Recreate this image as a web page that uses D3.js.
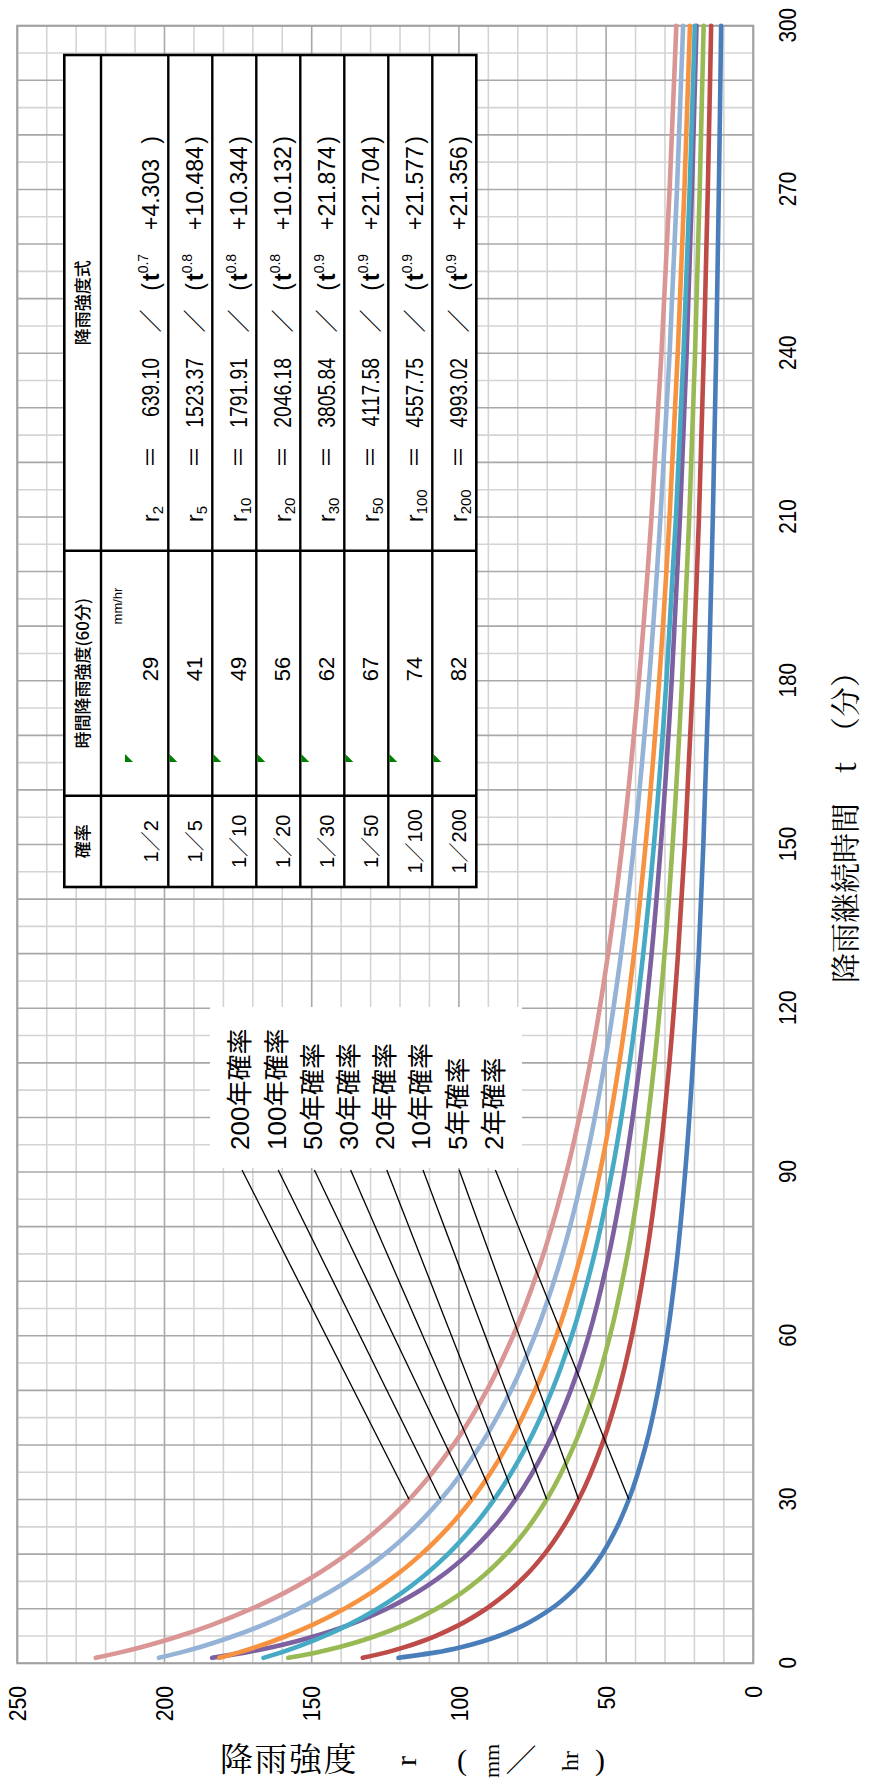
<!DOCTYPE html>
<html><head><meta charset="utf-8">
<script src="https://cdn.jsdelivr.net/npm/d3@7"></script>
<style>body{margin:0;background:#fff} svg{display:block}</style>
</head><body>
<svg id="c" width="873" height="1782"></svg>
<script>
// ---------- data ----------
const tValues = [1,2,3,4,5,7,10,13,16,20,25,30,40,50,60,75,90,110,130,150,180,210,240,270,300];
const r2   = [120.52,107.82,98.92,92.06,86.50,77.87,68.61,61.90,56.72,51.35,46.24,42.28,36.46,32.33,29.22,25.73,23.13,20.51,18.53,16.97,15.14,13.74,12.61,11.70,10.92];
const r5   = [132.65,124.61,118.16,112.71,107.98,100.04,90.71,83.39,77.43,70.95,64.50,59.32,51.45,45.68,41.24,36.18,32.36,28.50,25.56,23.24,20.53,18.45,16.80,15.45,14.32];
const r10  = [157.96,148.27,140.52,133.97,128.29,118.77,107.60,98.85,91.74,84.01,76.33,70.16,60.80,53.96,48.69,42.69,38.18,33.61,30.14,27.40,24.20,21.74,19.79,18.20,16.87];
const r20  = [183.81,172.34,163.17,155.44,148.75,137.55,124.45,114.21,105.90,96.90,87.95,80.79,69.93,62.01,55.92,49.00,43.79,38.53,34.54,31.39,27.71,24.89,22.65,20.83,19.30];
const r30  = [166.38,160.31,154.95,150.09,145.65,137.71,127.64,119.18,111.94,103.71,95.16,88.05,76.83,68.35,61.67,53.93,48.02,42.00,37.39,33.75,29.51,26.27,23.70,21.61,19.88];
const r50  = [181.36,174.70,168.81,163.48,158.61,149.92,138.89,129.64,121.71,112.73,103.40,95.64,83.41,74.17,66.90,58.48,52.06,45.52,40.52,36.57,31.97,28.45,25.66,23.40,21.52];
const r100 = [201.88,194.42,187.83,181.88,176.43,166.71,154.39,144.07,135.23,125.21,114.82,106.17,92.57,82.29,74.21,64.85,57.72,50.46,44.91,40.53,35.42,31.52,28.43,25.92,23.84];
const r200 = [223.34,215.01,207.66,201.02,194.94,184.12,170.41,158.94,149.13,138.01,126.49,116.91,101.87,90.50,81.59,71.27,63.41,55.41,49.31,44.48,38.87,34.58,31.19,28.43,26.15];

const seriesNames  = ["2年確率","5年確率","10年確率","20年確率","30年確率","50年確率","100年確率","200年確率"];
const seriesValues = [r2, r5, r10, r20, r30, r50, r100, r200];
const seriesColors = ["#4a7ebb","#be4b48","#98b954","#7d60a0","#46aac5","#f69240","#95b3d7","#d99694"];

const tTicks = [0,30,60,90,120,150,180,210,240,270,300];
const rTicks = [0,50,100,150,200,250];

const legendOrder = ["200年確率","100年確率","50年確率","30年確率","20年確率","10年確率","5年確率","2年確率"];
const leaderT = 30;

const probLabels = ["1／2","1／5","1／10","1／20","1／30","1／50","1／100","1／200"];
const hourlyIntensity = [29,41,49,56,62,67,74,82];
const rSubs   = ["2","5","10","20","30","50","100","200"];
const coefA   = ["639.10","1523.37","1791.91","2046.18","3805.84","4117.58","4557.75","4993.02"];
const expN    = ["0.7","0.8","0.8","0.8","0.9","0.9","0.9","0.9"];
const coefB   = ["+4.303","+10.484","+10.344","+10.132","+21.874","+21.704","+21.577","+21.356"];

// ---------- layout ----------
const W = 873, H = 1782;
const svg = d3.select("#c");
// rotated frame: xr = H - pageY, yr = pageX
const g = svg.append("g").attr("transform", `translate(0,${H}) rotate(-90)`);
const plotTop = 25.7, plotBottom = 1663.3, plotLeft = 17.3, plotRight = 753.3;
const x = d3.scaleLinear().domain([0,300]).range([H - plotBottom, H - plotTop]);
const y = d3.scaleLinear().domain([0,250]).range([plotRight, plotLeft]);

const numFont = "'Liberation Sans',Arial,sans-serif";
const cjkSerif = "'Noto Serif CJK JP','Noto Sans CJK JP',serif";
const condense = (sel, k) => sel.each(function(){
  const w = this.getComputedTextLength();
  d3.select(this).attr("textLength", w*k).attr("lengthAdjust","spacingAndGlyphs");
});

// grid
const grid = g.append("g");
const tGrid = d3.range(0,301,5);
const rGrid = d3.range(0,251,10);
grid.selectAll("line.tm").data(tGrid.filter(d=>d%10!==0)).join("line")
  .attr("x1",d=>x(d)).attr("x2",d=>x(d)).attr("y1",y(250)).attr("y2",y(0))
  .attr("stroke","#d4d4d4").attr("stroke-width",1.6);
grid.selectAll("line.rm").data(rGrid.filter(d=>d%50!==0)).join("line")
  .attr("y1",d=>y(d)).attr("y2",d=>y(d)).attr("x1",x(0)).attr("x2",x(300))
  .attr("stroke","#d4d4d4").attr("stroke-width",1.6);
grid.selectAll("line.tM").data(tGrid.filter(d=>d%10===0)).join("line")
  .attr("x1",d=>x(d)).attr("x2",d=>x(d)).attr("y1",y(250)).attr("y2",y(0))
  .attr("stroke","#a8a8a8").attr("stroke-width",1.6);
grid.selectAll("line.rM").data(rGrid.filter(d=>d%50===0)).join("line")
  .attr("y1",d=>y(d)).attr("y2",d=>y(d)).attr("x1",x(0)).attr("x2",x(300))
  .attr("stroke","#a8a8a8").attr("stroke-width",1.6);
g.append("rect").attr("x",x(0)).attr("y",y(250)).attr("width",x(300)-x(0)).attr("height",y(0)-y(250))
  .attr("fill","none").attr("stroke","#a0a0a0").attr("stroke-width",2);

// axes labels
const tAx = g.append("g").attr("transform",`translate(0,788)`)
  .call(d3.axisBottom(x).tickValues(tTicks).tickSize(0).tickPadding(0));
tAx.select(".domain").remove();
tAx.selectAll("text").attr("y",0).attr("dy","0.36em").attr("font-size",23).attr("font-family",numFont).attr("fill","#000");
condense(tAx.selectAll("text"), 0.9);

const rAx = g.append("g").attr("transform",`translate(96,0)`)
  .call(d3.axisLeft(y).tickValues(rTicks).tickSize(0).tickPadding(0));
rAx.select(".domain").remove();
rAx.selectAll("text").attr("x",0).attr("dy","0.36em").attr("text-anchor","end").attr("font-size",23).attr("font-family",numFont).attr("fill","#000");
condense(rAx.selectAll("text"), 0.92);

// curves
const line = d3.line().x(d=>x(d.t)).y(d=>y(d.r)).curve(d3.curveMonotoneX);
seriesValues.forEach((vals,i)=>{
  const pts = tValues.map((t,j)=>({t, r: vals[j]}));
  g.append("path").datum(pts).attr("d",line).attr("fill","none")
   .attr("stroke",seriesColors[i]).attr("stroke-width",4.6).attr("stroke-linecap","round").attr("stroke-linejoin","round");
});

// legend box
g.append("rect").attr("x",H-1168).attr("y",210).attr("width",161).attr("height",312).attr("fill","#fff");
legendOrder.forEach((name,i)=>{
  const yy = 240 + i*36.2;
  g.append("text").attr("x",H-1150).attr("y",yy).attr("dy","0.36em")
    .attr("font-size",26).attr("font-family","'Liberation Sans','Noto Sans CJK JP',sans-serif").text(name);
  const si = seriesNames.indexOf(name);
  const j = tValues.indexOf(leaderT);
  g.append("line").attr("x1",H-1170).attr("y1",yy+2).attr("x2",x(leaderT)).attr("y2",y(seriesValues[si][j]))
    .attr("stroke","#000").attr("stroke-width",1.3);
});

// table
const tb = g.append("g");
const tX0 = H-887, tX1 = H-795.7, tX2 = H-550.7, tX3 = H-55;
const rowB = [64.3, 101, 168.3];
for (let i=1;i<=7;i++) rowB.push(168.3 + 44*i);
tb.append("rect").attr("x",tX0).attr("y",rowB[0]).attr("width",tX3-tX0).attr("height",rowB[rowB.length-1]-rowB[0]).attr("fill","#fff");
[tX1,tX2].forEach(v=>tb.append("line").attr("x1",v).attr("x2",v).attr("y1",rowB[0]).attr("y2",rowB[rowB.length-1]).attr("stroke","#000").attr("stroke-width",2.4));
rowB.slice(1,-1).forEach(v=>tb.append("line").attr("y1",v).attr("y2",v).attr("x1",tX0).attr("x2",tX3).attr("stroke","#000").attr("stroke-width",2.4));
tb.append("rect").attr("x",tX0).attr("y",rowB[0]).attr("width",tX3-tX0).attr("height",rowB[rowB.length-1]-rowB[0]).attr("fill","none").attr("stroke","#000").attr("stroke-width",2.6);

const hdrY = 83;
const hdrFont = "'Noto Sans CJK JP',sans-serif";
const hdr = (xx, str) => tb.append("text").attr("x",xx).attr("y",hdrY).attr("dy","0.36em").attr("text-anchor","middle")
   .attr("font-size",17).attr("font-weight",500).attr("font-family",hdrFont).text(str);
hdr((tX0+tX1)/2, "確率");
hdr((tX1+tX2)/2, "時間降雨強度(60分)");
hdr((tX2+tX3)/2, "降雨強度式");
tb.append("text").attr("x",H-606).attr("y",117).attr("dy","0.36em").attr("text-anchor","middle").attr("font-size",13).attr("font-family","'Liberation Sans',sans-serif").text("mm/hr");

const fF = numFont;
probLabels.forEach((p,i)=>{
  const rowEnd = rowB[i+2];
  const cy = rowEnd - 18;
  const cellStart = i===0 ? 124 : rowB[i+1];
  const t = (xx, str, anchor, size, fam) => tb.append("text").attr("x",xx).attr("y",cy).attr("dy","0.36em")
      .attr("text-anchor",anchor).attr("font-size",size||23).attr("font-family",fam||fF).text(str);
  t((tX0+tX1)/2, p, "middle", 20, "'Liberation Sans','Noto Sans CJK JP',sans-serif");
  t(H-669, String(hourlyIntensity[i]), "middle", 22);
  tb.append("path").attr("d",`M${H-762},${cellStart+1} l8,0 l-8,8 z`).attr("fill","#008000");
  const rl = t(H-522, "r", "start");
  rl.append("tspan").attr("font-size",15).attr("dy","0.3em").text(rSubs[i]);
  t(H-457, "＝", "middle", 22, "'Noto Sans CJK JP',sans-serif");
  condense(t(H-358, coefA[i], "end"), 0.84);
  t(H-321, "／", "middle", 23, "'Noto Sans CJK JP',sans-serif");
  t(H-287, "(", "middle");
  const tt = t(H-281, "t", "start", 23);
  tt.attr("font-weight","bold");
  tt.append("tspan").attr("font-size",14).attr("font-weight","normal").attr("dy","-0.75em").text(expN[i]);
  t(H-230, coefB[i], "start");
  t(H-140, ")", "middle");
});

// right axis title (rotated frame)
g.append("text").attr("x",H-820).attr("y",845).attr("dy","0.36em").attr("text-anchor","middle")
  .attr("font-size",30).attr("font-family",cjkSerif).text("降雨継続時間　t　（分）");

// bottom title (page frame)
const bt = svg.append("g");
bt.append("text").attr("x",220).attr("y",1771).attr("font-size",33).attr("font-family",cjkSerif).attr("letter-spacing",1.5).text("降雨強度");
const rot = (xx, yy, str, size, fam) => bt.append("text").attr("transform",`translate(${xx},${yy}) rotate(-90)`)
   .attr("text-anchor","middle").attr("dy","0.36em").attr("font-size",size).attr("font-family",fam).text(str);
rot(405, 1761, "r", 30, "'Liberation Serif',serif");
bt.append("text").attr("x",462).attr("y",1770).attr("text-anchor","middle").attr("font-size",30).attr("font-family","'Liberation Serif',serif").text("(");
rot(491, 1761, "mm", 22, "'Liberation Serif',serif");
bt.append("text").attr("x",521).attr("y",1771).attr("text-anchor","middle").attr("font-size",31).attr("font-family",cjkSerif).text("／");
rot(569, 1761, "hr", 24, "'Liberation Serif',serif");
bt.append("text").attr("x",600).attr("y",1770).attr("text-anchor","middle").attr("font-size",30).attr("font-family","'Liberation Serif',serif").text(")");
</script>
</body></html>
